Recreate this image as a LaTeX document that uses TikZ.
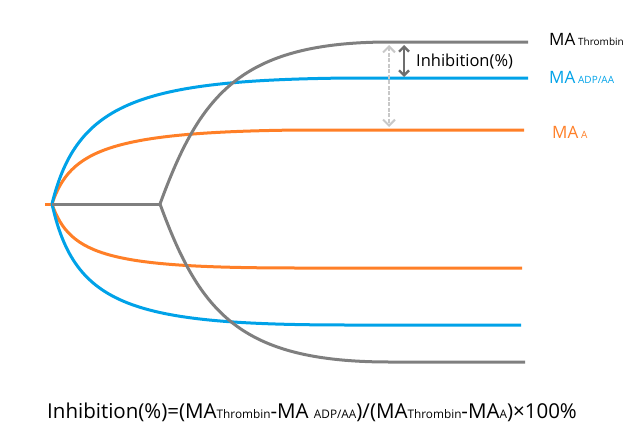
\documentclass[tikz,border=0pt]{standalone}
\usepackage{fontspec}
\setmainfont{Open Sans}
\usetikzlibrary{arrows.meta}
\definecolor{cblue}{RGB}{0,162,232}
\definecolor{corange}{RGB}{255,127,39}
\definecolor{cgray}{RGB}{127,127,127}
\definecolor{cdark}{RGB}{110,110,110}
\definecolor{clight}{RGB}{200,200,200}
\newcommand{\subsm}[1]{{\fontsize{10}{12}\selectfont #1}}
\newcommand{\subfm}[1]{{\fontsize{11.8}{13}\selectfont #1}}
\begin{document}
\begin{tikzpicture}[x=1pt,y=-1pt,
  curve/.style={line width=3pt},
  lbl/.style={anchor=base west, inner sep=0pt, font=\fontsize{17}{20}\selectfont},
  darkarrow/.style={line width=2.4pt, {Straight Barb[length=5pt,width=10pt]}-{Straight Barb[length=5pt,width=10pt]}},
  lightarrow/.style={line width=2pt, dash pattern=on 4pt off 1.5pt, {Straight Barb[length=6pt,width=12pt]}-{Straight Barb[length=6pt,width=12pt]}}]
\useasboundingbox (0,0) rectangle (640,442);
\coordinate (s) at (45,204);
\coordinate (o) at (52,204);
\coordinate (j) at (160,204);
\coordinate (bu) at (350,78);
\coordinate (bue) at (528,78);
\coordinate (ou) at (300,130);
\coordinate (oue) at (524,130);
\coordinate (ol) at (300,268);
\coordinate (ole) at (522,268);
\coordinate (bl) at (350,325);
\coordinate (ble) at (521,325);
\coordinate (gu) at (390,42);
\coordinate (gue) at (528,42);
\coordinate (gl) at (390,362);
\coordinate (gle) at (525,362);
% orange
\draw[curve,corange] (s) -- (o);
\draw[curve,corange] (o) .. controls (70,150) and (110,132) .. (ou) -- (oue);
\draw[curve,corange] (o) .. controls (70,256) and (110,268) .. (ol) -- (ole);
% blue
\draw[curve,cblue] (o) .. controls (77,102) and (140,80) .. (bu) -- (bue);
\draw[curve,cblue] (o) .. controls (75,306) and (130,325) .. (bl) -- (ble);
% gray
\draw[curve,cgray] (o) -- (j);
\draw[curve,cgray] (j) .. controls (200,95) and (240,42) .. (gu) -- (gue);
\draw[curve,cgray] (j) .. controls (200,313) and (240,362) .. (gl) -- (gle);
% arrows
\coordinate (a1) at (404,45);
\coordinate (a2) at (404,77);
\coordinate (b1) at (389,45);
\coordinate (b2) at (389,127);
\draw[lightarrow,clight] (b1) -- (b2);
\draw[darkarrow,cdark] (a1) -- (a2);
% labels
\node[lbl,black] (lt) at (549,45) {MA\,\subsm{Thrombin}};
\node[lbl,cblue] (lb) at (549,83) {MA\,\subsm{ADP/AA}};
\node[lbl,corange] (lo) at (552,138) {MA\,\subsm{A}};
\node[anchor=base west,inner sep=0pt,font=\fontsize{16.5}{19}\selectfont] (inh) at (416,66) {Inhibition(\%)};
\node[anchor=base west,inner sep=0pt,font=\fontsize{20.5}{24}\selectfont] (f) at (47,418)
 {Inhibition(\%)=(MA\subfm{Thrombin}-MA \subfm{ADP/AA})/(MA\subfm{Thrombin}-MA\subfm{A})×100\%};
\end{tikzpicture}
\end{document}
